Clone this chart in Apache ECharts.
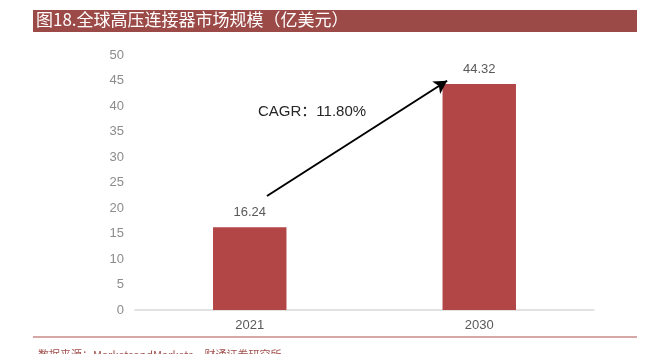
<!DOCTYPE html>
<html>
<head>
<meta charset="utf-8">
<script src="https://cdn.jsdelivr.net/npm/echarts@6/dist/echarts.min.js"></script>
<style>
  html, body { margin: 0; padding: 0; background: #fff; }
  #chart { width: 647px; height: 354px; }
</style>
</head>
<body>
<div id="chart"></div>
<script>
const years = ['2021', '2030']
const marketSize = [16.24, 44.32]
const yTicks = [0, 5, 10, 15, 20, 25, 30, 35, 40, 45, 50]
// arrow from above the 2021 bar to the top of the 2030 bar (hidden value x axis)
const arrowFrom = [0.075, 22.35]
const arrowTo = [0.86, 44.95]
const cagrText = 'CAGR：11.80%'

const chart = echarts.init(document.getElementById('chart'), null, { renderer: 'canvas' })

const option = {
  backgroundColor: '#fff',
  animation: false,
  grid: { left: 135, right: 53, top: 55, bottom: 44 },
  xAxis: [
    {
      type: 'category',
      data: years,
      axisLine: { lineStyle: { color: '#d9d9d9', width: 1.5 } },
      axisTick: { show: false },
      axisLabel: { color: '#595959', fontSize: 13, fontFamily: 'Liberation Sans, Arial', margin: 9 },
    },
    {
      type: 'value',
      min: -0.5,
      max: 1.5,
      show: false,
    },
  ],
  yAxis: {
    type: 'value',
    min: yTicks[0],
    max: yTicks[yTicks.length - 1],
    interval: 5,
    axisLine: { show: false },
    axisTick: { show: false },
    splitLine: { show: false },
    axisLabel: { color: '#8c8c8c', fontSize: 13, fontFamily: 'Liberation Sans, Arial', margin: 11 },
  },
  series: [
    {
      type: 'bar',
      data: marketSize,
      barWidth: '32%',
      itemStyle: { color: '#b24545' },
      label: {
        show: true,
        position: 'top',
        distance: 8,
        color: '#595959',
        fontSize: 13,
        fontFamily: 'Liberation Sans, Arial',
        formatter: (p) => p.value.toFixed(2),
      },
    },
    {
      type: 'line',
      xAxisIndex: 1,
      data: [],
      markLine: {
        silent: true,
        symbol: ['none', 'arrow'],
        symbolSize: [11, 13],
        label: { show: false },
        lineStyle: { color: '#000', width: 2, type: 'solid' },
        data: [[{ coord: arrowFrom }, { coord: arrowTo }]],
      },
    },
  ],
  graphic: [
    {
      type: 'rect',
      shape: { x: 33, y: 10, width: 604, height: 22 },
      style: { fill: '#9c4a47' },
    },
    {
      type: 'text',
      left: 36,
      top: 11,
      style: {
        text: '图18.全球高压连接器市场规模（亿美元）',
        fill: '#fff',
        font: '17px "Noto Sans CJK SC", "DejaVu Serif", serif',
      },
    },
    {
      type: 'text',
      left: 258,
      top: 104,
      style: {
        text: cagrText,
        fill: '#262626',
        font: '15px "Liberation Sans", "Noto Sans CJK SC", sans-serif',
      },
    },
    {
      type: 'line',
      shape: { x1: 33, y1: 337, x2: 637, y2: 337 },
      style: { stroke: '#c98b87', lineWidth: 1.5 },
    },
    {
      type: 'text',
      left: 38,
      top: 349,
      style: {
        text: '数据来源：MarketsandMarkets，财通证券研究所',
        fill: '#a0504c',
        font: '11px "Noto Sans CJK SC", sans-serif',
      },
    },
  ],
}

chart.setOption(option)
</script>
</body>
</html>
